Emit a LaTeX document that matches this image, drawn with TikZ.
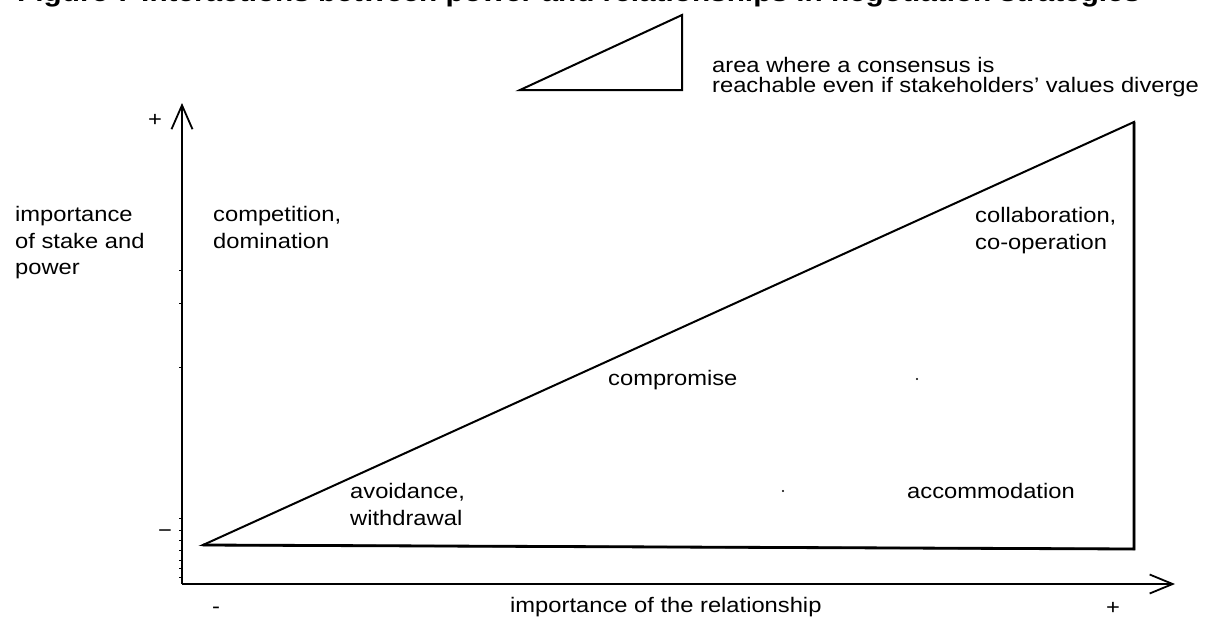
\documentclass[tikz,border=0pt]{standalone}
\usepackage{fontspec}
\setmainfont{Liberation Sans}[FakeStretch=1.13]
\usetikzlibrary{arrows.meta}
\begin{document}
\begin{tikzpicture}[x=1pt,y=-1pt,
  lbl/.style={inner sep=0pt, font=\fontsize{21}{26.5}\selectfont, align=left},
  legendlbl/.style={inner sep=0pt, font=\fontsize{21}{20}\selectfont, align=left},
  axisline/.style={line width=1.8pt},
  region/.style={line width=2pt, line join=miter},
  edge/.style={line width=2.8pt},
  tick/.style={line width=1pt},
]
\useasboundingbox (0,0) rectangle (1207,618);
\fill[white] (0,0) rectangle (1207,618);

% title line, only its lower part lies inside the page
\node[anchor=base west, inner sep=0pt] (title) at (17,2)
  {\resizebox{1123pt}{!}{\bfseries\fontsize{24}{24}\selectfont Figure 7 Interactions between power and relationships in negotiation strategies}};

% legend: small triangle and its explanation
\coordinate (LA) at (520,90);
\coordinate (LB) at (682,15);
\coordinate (LC) at (682,90);
\draw[region] (LA) -- (LB) -- (LC) -- cycle;
\draw[edge] (LB) -- (LC) -- (LA);
\node[legendlbl, anchor=north west] (legend) at (712,57.5)
  {area where a consensus is\\reachable even if stakeholders' values diverge};

% axes
\coordinate (O) at (182,584);
\coordinate (ytip) at (182,103);
\coordinate (xtip) at (1175,584);
\draw[axisline, -{Straight Barb[length=24pt,width=21pt,line width=1.8pt]}] (O) -- (ytip);
\draw[axisline, -{Straight Barb[length=23pt,width=19pt,line width=1.8pt]}] (O) -- (xtip);
\foreach \t in {270,303,367,518,530,540,550,560,568,577}
  \draw[tick] (179,\t) -- (182,\t);

\node[lbl, anchor=base] (yplus) at (155,126) {+};
\node[lbl, anchor=base] (yminus) at (165,537) {−};
\node[lbl, anchor=base] (xminus) at (216,613) {-};
\node[lbl, anchor=base] (xplus) at (1113,614) {+};
\node[lbl, anchor=base west] (xlabel) at (510,612) {importance of the relationship};
\node[lbl, anchor=north west] (ylabel) at (15,206.5) {importance\\of stake and\\power};

% consensus area
\coordinate (A) at (203,545);
\coordinate (B) at (1134,122);
\coordinate (C) at (1134,549);
\draw[region] (A) -- (B) -- (C) -- cycle;
\draw[edge] (B) -- (C) -- (A);

% strategy labels
\node[lbl, anchor=north west] (competition) at (213,206.5) {competition,\\domination};
\node[lbl, anchor=north west] (collaboration) at (975,207.5) {collaboration,\\co-operation};
\node[lbl, anchor=base west] (compromise) at (608,385.5) {compromise};
\node[lbl, anchor=north west] (avoidance) at (350,483.5) {avoidance,\\withdrawal};
\node[lbl, anchor=base west] (accommodation) at (907,498.5) {accommodation};

% specks
\fill (917,379) circle (1.2);
\fill (783,491) circle (1.2);
\end{tikzpicture}
\end{document}
